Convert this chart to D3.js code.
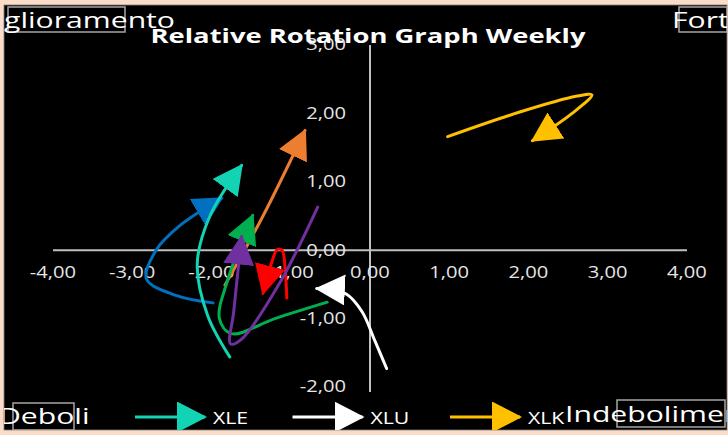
<!DOCTYPE html>
<html>
<head>
<meta charset="utf-8">
<script src="https://cdn.jsdelivr.net/npm/d3@7"></script>
<style>
  html, body { margin: 0; padding: 0; background: #fbdcc8; }
  svg { display: block; }
  text { font-family: "Open Sans", sans-serif; }
</style>
</head>
<body>
<svg id="chart" width="728" height="435"></svg>
<script>
// tick values
const xTicks = [-4, -3, -2, -1, 0, 1, 2, 3, 4];
const yTicks = [-2, -1, 0, 1, 2, 3];

// tails, [ratio, momentum], last point = arrow tip
const xlb = [[-1.98, -0.77], [-2.45, -0.66], [-2.82, -0.42], [-2.7, 0.0], [-2.4, 0.36], [-1.87, 0.76]];
const xle = [[-1.77, -1.56], [-2.05, -0.95], [-2.18, -0.2], [-2.02, 0.5], [-1.62, 1.24]];
const xli = [[-1.83, -0.51], [-1.35, 0.5], [-0.82, 1.75]];
const xlf = [[-1.05, -0.7], [-1.07, -0.29], [-1.11, 0.0], [-1.17, 0.01], [-1.24, -0.18], [-1.35, -0.63]];
const xlv = [[-0.54, -0.76], [-1.2, -1.0], [-1.75, -1.22], [-1.9, -1.0], [-1.8, -0.45], [-1.48, 0.51]];
const xly = [[-0.66, 0.63], [-1.14, -0.48], [-1.62, -1.3], [-1.76, -1.37], [-1.72, -0.9], [-1.62, 0.2]];
const xlu = [[0.21, -1.73], [0.06, -1.32], [-0.1, -0.9], [-0.3, -0.64], [-0.67, -0.56]];
const xlk = [[0.98, 1.66], [1.89, 2.02], [2.6, 2.25], [2.8, 2.27], [2.55, 2.0], [2.05, 1.6]];

// draw order (later on top)
const seriesNames = ["XLB", "XLE", "XLI", "XLF", "XLV", "XLY", "XLU", "XLK"];
const seriesData = [xlb, xle, xli, xlf, xlv, xly, xlu, xlk];
const seriesColors = ["#0070c0", "#13d3b5", "#ed7d31", "#ff0000", "#00b050", "#7030a0", "#ffffff", "#ffc000"];

// only these fit in the legend
const legendNames = ["XLE", "XLU", "XLK"];

const quadrants = ["Miglioramento", "Forti", "Deboli", "Indebolimento"];

const svg = d3.select("#chart");
const defs = svg.append("defs");

// stretch text horizontally, the original is a widened screenshot
function stretch(sel, k) {
  sel.each(function () {
    const w = this.getComputedTextLength();
    d3.select(this).attr("textLength", w * k).attr("lengthAdjust", "spacingAndGlyphs");
  });
}

defs.append("clipPath").attr("id", "area")
  .append("rect").attr("x", 4).attr("y", 5).attr("width", 723).attr("height", 425);

svg.append("rect")
  .attr("x", 4).attr("y", 5).attr("width", 723).attr("height", 425)
  .attr("fill", "#000").attr("stroke", "#7f7f7f").attr("stroke-width", 0.8);

const g = svg.append("g").attr("clip-path", "url(#area)");

const x = d3.scaleLinear().domain([-4, 4]).range([53, 687]);
const y = d3.scaleLinear().domain([-2, 3]).range([387, 45]);

// arrow heads, one per colour
seriesColors.forEach((c, i) => {
  defs.append("marker")
    .attr("id", "arr" + i)
    .attr("markerUnits", "userSpaceOnUse")
    .attr("markerWidth", 30).attr("markerHeight", 31)
    .attr("viewBox", "0 0 30 31")
    .attr("refX", 28).attr("refY", 15.5)
    .attr("orient", "auto")
    .append("path").attr("d", "M0,0L30,15.5L0,31Z").attr("fill", c);
});

// axes through the origin
g.append("line")
  .attr("x1", x(-4)).attr("x2", x(4)).attr("y1", y(0)).attr("y2", y(0))
  .attr("stroke", "#bfbfbf").attr("stroke-width", 2);
g.append("line")
  .attr("x1", x(0)).attr("x2", x(0)).attr("y1", y(3)).attr("y2", y(-2) + 5)
  .attr("stroke", "#bfbfbf").attr("stroke-width", 2);

const fmt = v => d3.format(".2f")(v).replace(".", ",").replace("−", "-");

g.append("g").selectAll("text").data(xTicks).join("text")
  .attr("x", d => x(d)).attr("y", y(0) + 28)
  .attr("text-anchor", "middle")
  .attr("fill", "#e6e6e6").attr("font-size", 15.5)
  .text(fmt)
  .call(stretch, 1.3);

g.append("g").selectAll("text").data(yTicks).join("text")
  .attr("x", x(0) - 24).attr("y", d => y(d))
  .attr("dy", "0.35em")
  .attr("text-anchor", "end")
  .attr("fill", "#e6e6e6").attr("font-size", 15.5)
  .text(fmt)
  .call(stretch, 1.3);

// tails
const line = d3.line()
  .x(d => x(d[0])).y(d => y(d[1]))
  .curve(d3.curveCatmullRom.alpha(0.5));

g.append("g").selectAll("path").data(seriesData).join("path")
  .attr("d", line)
  .attr("fill", "none")
  .attr("stroke", (d, i) => seriesColors[i])
  .attr("stroke-width", 3)
  .attr("stroke-linecap", "round")
  .attr("marker-end", (d, i) => "url(#arr" + i + ")");

// title
g.append("text")
  .attr("x", 368).attr("y", 43)
  .attr("text-anchor", "middle")
  .attr("fill", "#fff").attr("font-size", 20).attr("font-weight", "bold")
  .attr("textLength", 435).attr("lengthAdjust", "spacingAndGlyphs")
  .text("Relative Rotation Graph Weekly");

// legend
const lg = g.append("g").selectAll("g").data(legendNames).join("g")
  .attr("transform", (d, i) => `translate(${135 + i * 157.5},417)`);
lg.append("line")
  .attr("x1", 0).attr("x2", 70).attr("y1", 0).attr("y2", 0)
  .attr("stroke", d => seriesColors[seriesNames.indexOf(d)])
  .attr("stroke-width", 3)
  .attr("marker-end", d => "url(#arr" + seriesNames.indexOf(d) + ")");
lg.append("text")
  .attr("x", 78).attr("y", 7)
  .attr("fill", "#fff").attr("font-size", 17)
  .text(d => d)
  .call(stretch, 1.25);

// quadrant text boxes
const boxes = g.append("g");
const qText = [
  { x: 175, y: 28, anchor: "end" },
  { x: 672, y: 28, anchor: "start" },
  { x: -1, y: 424, anchor: "start" },
  { x: 565, y: 422, anchor: "start" }
];
const qBox = [[8, 7, 117, 25], [679, 7, 48, 25], [13, 403, 61, 27], [617, 400, 108, 27]];
boxes.selectAll("rect").data(qBox).join("rect")
  .attr("x", d => d[0]).attr("y", d => d[1]).attr("width", d => d[2]).attr("height", d => d[3])
  .attr("fill", "none").attr("stroke", "#a6a6a6").attr("stroke-width", 1.5);
boxes.selectAll("text").data(quadrants).join("text")
  .attr("x", (d, i) => qText[i].x).attr("y", (d, i) => qText[i].y)
  .attr("text-anchor", (d, i) => qText[i].anchor)
  .attr("fill", "#fff").attr("font-size", 22)
  .text(d => d)
  .call(stretch, 1.37);
</script>
</body>
</html>
